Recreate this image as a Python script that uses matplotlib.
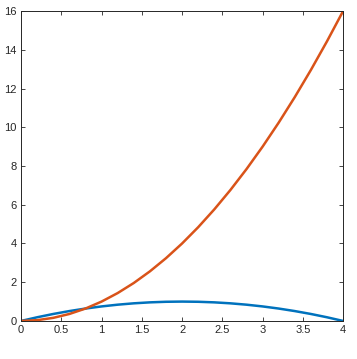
import matplotlib
matplotlib.use("Agg")
import matplotlib.pyplot as plt

x_vals = [0, 0.2, 0.4, 0.6, 0.8, 1.0, 1.2, 1.4, 1.6, 1.8, 2.0,
          2.2, 2.4, 2.6, 2.8, 3.0, 3.2, 3.4, 3.6, 3.8, 4.0]
blue_vals = [0, 0.19, 0.36, 0.51, 0.64, 0.75, 0.84, 0.91, 0.96, 0.99, 1.0,
             0.99, 0.96, 0.91, 0.84, 0.75, 0.64, 0.51, 0.36, 0.19, 0]
orange_vals = [0, 0.04, 0.16, 0.36, 0.64, 1.0, 1.44, 1.96, 2.56, 3.24, 4.0,
               4.84, 5.76, 6.76, 7.84, 9.0, 10.24, 11.56, 12.96, 14.44, 16.0]

x_ticks = [0, 0.5, 1, 1.5, 2, 2.5, 3, 3.5, 4]
x_labels = ["0", "0.5", "1", "1.5", "2", "2.5", "3", "3.5", "4"]
y_ticks = [0, 2, 4, 6, 8, 10, 12, 14, 16]

plt.rcParams['font.family'] = ['Liberation Sans', 'DejaVu Sans']

fig = plt.figure(figsize=(3.57, 3.59), dpi=100)
ax = fig.add_axes([0.059, 0.106, 0.902, 0.863])

ax.plot(x_vals, blue_vals, color='#0072BD', linewidth=1.8)
ax.plot(x_vals, orange_vals, color='#D95319', linewidth=1.8)

ax.set_xlim(0, 4)
ax.set_ylim(0, 16)
ax.set_xticks(x_ticks)
ax.set_xticklabels(x_labels)
ax.set_yticks(y_ticks)
ax.tick_params(direction='in', top=True, right=True, length=3, width=0.6,
               labelsize=8, colors='#262626', pad=3)
for s in ax.spines.values():
    s.set_color('#262626')
    s.set_linewidth(0.7)

fig.savefig("out.png", dpi=100)
